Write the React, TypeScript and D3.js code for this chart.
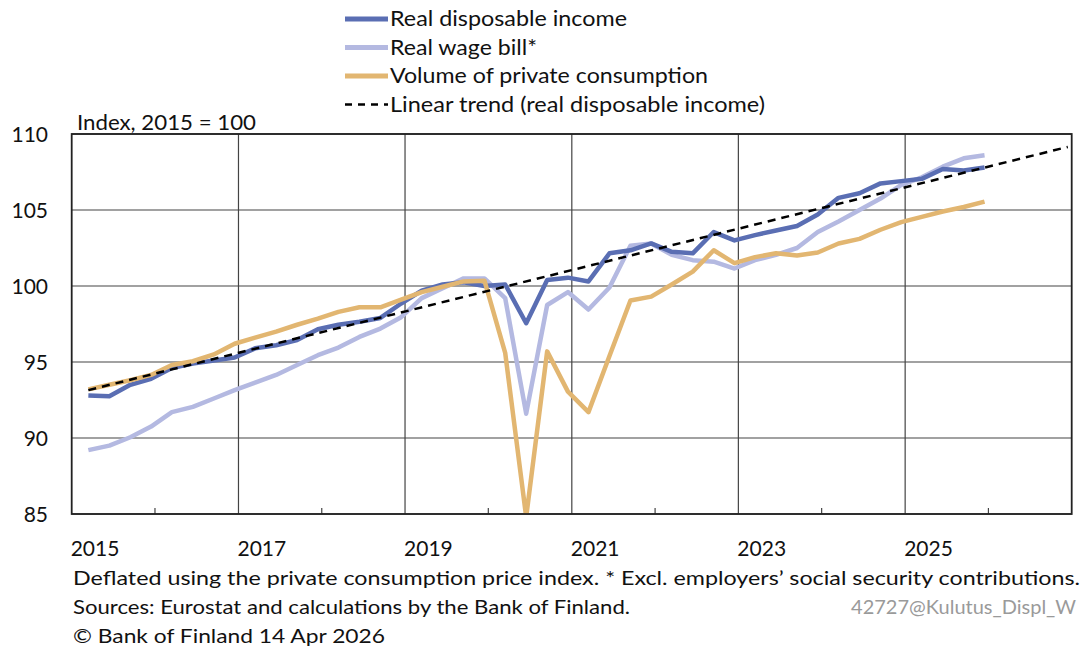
import React from "react";
import * as d3 from "d3";

const quarterStart = [2015, 0];
const realDisposableIncome = [
  92.8, 92.75, 93.5, 93.9, 94.6, 94.9, 95.1, 95.3, 95.9, 96.1, 96.45, 97.15,
  97.45, 97.65, 97.9, 98.85, 99.7, 100.1, 100.25, 100.0, 100.1, 97.55, 100.4, 100.55,
  100.3, 102.15, 102.35, 102.8, 102.25, 102.15, 103.55, 103.0, 103.35, 103.65, 103.95, 104.7,
  105.8, 106.1, 106.75, 106.9, 107.05, 107.7, 107.6, 107.8,
];
const realWageBill = [
  89.2, 89.5, 90.05, 90.75, 91.7, 92.05, 92.6, 93.15, 93.65, 94.15, 94.8, 95.45,
  95.95, 96.65, 97.2, 97.95, 99.2, 99.85, 100.5, 100.5, 99.2, 91.6, 98.75, 99.6,
  98.45, 99.9, 102.65, 102.8, 102.05, 101.7, 101.6, 101.15, 101.7, 102.05, 102.5, 103.55,
  104.25, 105.0, 105.75, 106.65, 107.15, 107.85, 108.4, 108.6,
];
const privateConsumption = [
  93.2, 93.5, 93.8, 94.15, 94.8, 95.05, 95.5, 96.2, 96.6, 97.0, 97.45, 97.85,
  98.3, 98.6, 98.6, 99.1, 99.6, 99.95, 100.3, 100.35, 95.6, 84.8, 95.7, 93.05,
  91.7, 95.4, 99.05, 99.3, 100.1, 100.95, 102.35, 101.5, 101.9, 102.15, 102.0, 102.2,
  102.8, 103.1, 103.7, 104.2, 104.55, 104.9, 105.2, 105.55,
];
// linear trend endpoints: Q1 2015 and Q4 2026
const trendQuarters = [0, 47];
const trendValues = [93.15, 109.15];

const yTicks = [85, 90, 95, 100, 105, 110];
const xLabelYears = [2015, 2017, 2019, 2021, 2023, 2025];
const gridYears = [2017, 2019, 2021, 2023, 2025];
const minorYears = [2016, 2018, 2020, 2022, 2024, 2026];

const legendItems = [
  { label: "Real disposable income", color: "#5a6eb3", dash: "", len: 237 },
  { label: "Real wage bill*", color: "#b4b9e1", dash: "", len: 147 },
  { label: "Volume of private consumption", color: "#e2b671", dash: "", len: 318 },
  { label: "Linear trend (real disposable income)", color: "#000", dash: "7,6", len: 375 },
];

const FONT = "Lato, 'Open Sans', sans-serif";

function qDate(i: number) {
  const q = quarterStart[1] + i;
  const y = quarterStart[0] + Math.floor(q / 4);
  return new Date(y, (q % 4) * 3 + 2, 15);
}

export default function App() {
  const W = 1085, H = 652;
  const left = 71.7, right = 1071.7, top = 134, bottom = 514;
  const x = d3.scaleTime().domain([new Date(2015, 0, 1), new Date(2027, 0, 1)]).range([left, right]);
  const y = d3.scaleLinear().domain([85, 110]).range([bottom, top]);
  const line = d3
    .line<number>()
    .x((_, i) => x(qDate(i)))
    .y((d) => y(d));
  const trendLine = d3
    .line<number>()
    .x((_, i) => x(qDate(trendQuarters[i])))
    .y((d) => y(d));

  return (
    <div style={{ position: "fixed", left: 0, top: 0, width: W, height: H, background: "#fff" }}>
      <svg width={W} height={H} style={{ display: "block" }} fontFamily={FONT}>
        <defs>
          <clipPath id="plotclip">
            <rect x={left} y={top} width={right - left} height={bottom - top} />
          </clipPath>
        </defs>
        {/* legend */}
        {legendItems.map((it, k) => {
          const ly = 19 + k * 28.5;
          return (
            <g key={it.label}>
              <line
                x1={345}
                x2={388}
                y1={ly}
                y2={ly}
                stroke={it.color}
                strokeWidth={it.dash ? 2.5 : 5}
                strokeDasharray={it.dash || undefined}
              />
              <text x={390} y={ly + 7} fontSize={21} fill="#111" textLength={it.len} lengthAdjust="spacingAndGlyphs">
                {it.label}
              </text>
            </g>
          );
        })}
        {/* horizontal grid */}
        {yTicks.map((t) => (
          <g key={t}>
            <line x1={left} x2={right} y1={y(t)} y2={y(t)} stroke="#444" strokeWidth={1.2} />
            <text x={48} y={y(t) + 7.5} fontSize={21} textAnchor="end" fill="#111">
              {t}
            </text>
          </g>
        ))}
        {gridYears.map((yr) => (
          <line
            key={yr}
            x1={x(new Date(yr, 0, 1))}
            x2={x(new Date(yr, 0, 1))}
            y1={top}
            y2={bottom}
            stroke="#444"
            strokeWidth={1.2}
          />
        ))}
        {minorYears.map((yr) => (
          <line
            key={yr}
            x1={x(new Date(yr, 0, 1))}
            x2={x(new Date(yr, 0, 1))}
            y1={bottom}
            y2={bottom - 6}
            stroke="#444"
            strokeWidth={1.2}
          />
        ))}
        {xLabelYears.map((yr) => (
          <text key={yr} x={x(new Date(yr, 0, 1)) - 1} y={556} fontSize={21} fill="#111">
            {yr}
          </text>
        ))}
        <text x={77} y={130} fontSize={21} fill="#111" textLength={179} lengthAdjust="spacingAndGlyphs">
          Index, 2015 = 100
        </text>
        <g clipPath="url(#plotclip)" fill="none" strokeLinejoin="round">
          <path d={line(realWageBill) || ""} stroke="#b4b9e1" strokeWidth={4.5} />
          <path d={line(realDisposableIncome) || ""} stroke="#5a6eb3" strokeWidth={4.5} />
          <path d={line(privateConsumption) || ""} stroke="#e2b671" strokeWidth={4.5} />
          <path d={trendLine(trendValues) || ""} stroke="#000" strokeWidth={2.5} strokeDasharray="8,6" />
        </g>
        <rect x={left} y={top} width={right - left} height={bottom - top} fill="none" stroke="#222" strokeWidth={1.8} />
        {/* footer */}
        <text x={73} y={585} fontSize={20} fill="#111" textLength={1007} lengthAdjust="spacingAndGlyphs">
          Deflated using the private consumption price index. * Excl. employers’ social security contributions.
        </text>
        <text x={73} y={614} fontSize={20} fill="#111" textLength={557} lengthAdjust="spacingAndGlyphs">
          Sources: Eurostat and calculations by the Bank of Finland.
        </text>
        <text x={1076} y={614} fontSize={20} fill="#9a9a9a" textAnchor="end">
          42727@Kulutus_Displ_W
        </text>
        <text x={73} y={643} fontSize={20} fill="#111" textLength={312} lengthAdjust="spacingAndGlyphs">
          © Bank of Finland 14 Apr 2026
        </text>
      </svg>
    </div>
  );
}
